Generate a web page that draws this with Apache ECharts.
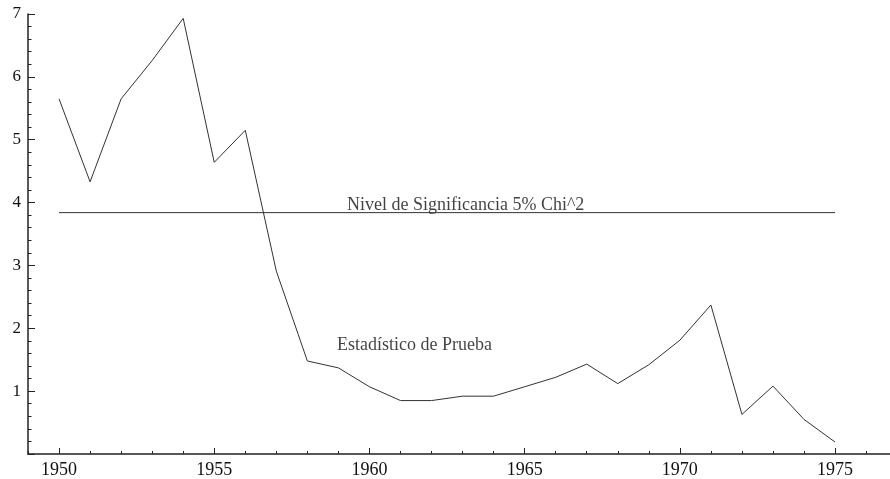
<!DOCTYPE html>
<html>
<head>
<meta charset="utf-8">
<script src="https://cdn.jsdelivr.net/npm/echarts@6/dist/echarts.min.js"></script>
<style>
  html, body { margin: 0; padding: 0; background: #fff; }
  #chart { width: 890px; height: 479px; }
</style>
</head>
<body>
<div id="chart"></div>
<script>
// Test statistic per year and the 5% chi-square critical value
const years = [1950, 1951, 1952, 1953, 1954, 1955, 1956, 1957, 1958, 1959,
               1960, 1961, 1962, 1963, 1964, 1965, 1966, 1967, 1968, 1969,
               1970, 1971, 1972, 1973, 1974, 1975];
const estadistico = [5.65, 4.33, 5.65, 6.26, 6.93, 4.64, 5.15, 2.91, 1.48, 1.37,
                     1.07, 0.85, 0.85, 0.92, 0.92, 1.07, 1.22, 1.43, 1.12, 1.42,
                     1.81, 2.37, 0.63, 1.08, 0.55, 0.19];
const criticalValue = 3.84;
const criticalYears = [1950, 1975];
const majorYears = [1950, 1955, 1960, 1965, 1970, 1975];

// Text annotations placed in data coordinates
const annotations = [
  { text: 'Nivel de Significancia 5% Chi^2', at: [1963.1, 3.95] },
  { text: 'Estadístico de Prueba', at: [1961.45, 1.73] }
];

const FONT = '"Liberation Serif", "DejaVu Serif", serif';
const INK = '#222';

const chart = echarts.init(document.getElementById('chart'), null, { renderer: 'canvas' });

const xRange = { min: 1949, max: 1976.77 };

chart.setOption({
  animation: false,
  backgroundColor: '#fff',
  grid: { left: 28, right: 0, top: 14, bottom: 21.5, containLabel: false },
  xAxis: [
    {
      // yearly minor ticks + axis line
      type: 'value', min: xRange.min, max: xRange.max, interval: 1,
      axisLine: { show: true, onZero: false, lineStyle: { color: INK, width: 1.5 } },
      axisTick: { show: true, inside: true, length: 3, lineStyle: { color: INK, width: 1 } },
      axisLabel: { show: false },
      splitLine: { show: false }
    },
    {
      // major ticks and labels every five years
      type: 'value', min: xRange.min, max: xRange.max, position: 'bottom',
      axisLine: { show: false },
      axisTick: { show: true, inside: true, length: 6, customValues: majorYears,
                  lineStyle: { color: INK, width: 1 } },
      axisLabel: { show: true, customValues: majorYears, color: '#111',
                   fontFamily: FONT, fontSize: 18, margin: 7,
                   formatter: v => String(v) },
      splitLine: { show: false }
    }
  ],
  yAxis: {
    type: 'value', min: 0, max: 7, interval: 1,
    axisLine: { show: true, onZero: false, lineStyle: { color: INK, width: 1.5 } },
    axisTick: { show: true, inside: true, length: 7, lineStyle: { color: INK, width: 1 } },
    minorTick: { show: true, splitNumber: 5, length: 3.5, lineStyle: { color: INK, width: 1 } },
    axisLabel: { color: '#111', fontFamily: FONT, fontSize: 17, margin: 7,
                 formatter: v => (v === 0 ? '' : String(v)) },
    splitLine: { show: false },
    minorSplitLine: { show: false }
  },
  series: [
    {
      name: 'Estadístico de Prueba', type: 'line', xAxisIndex: 0,
      data: years.map((y, i) => [y, estadistico[i]]),
      showSymbol: false, symbol: 'none',
      lineStyle: { color: '#333', width: 1 }
    },
    {
      name: 'Nivel de Significancia', type: 'line', xAxisIndex: 0,
      data: criticalYears.map(y => [y, criticalValue]),
      showSymbol: false, symbol: 'none',
      lineStyle: { color: '#333', width: 1 }
    },
    {
      type: 'scatter', xAxisIndex: 0, symbolSize: 0, silent: true,
      data: annotations.map(a => ({ value: a.at, name: a.text })),
      label: {
        show: true, position: 'inside', formatter: p => p.name,
        color: '#111', fontFamily: FONT, fontSize: 18
      }
    }
  ]
});
</script>
</body>
</html>
